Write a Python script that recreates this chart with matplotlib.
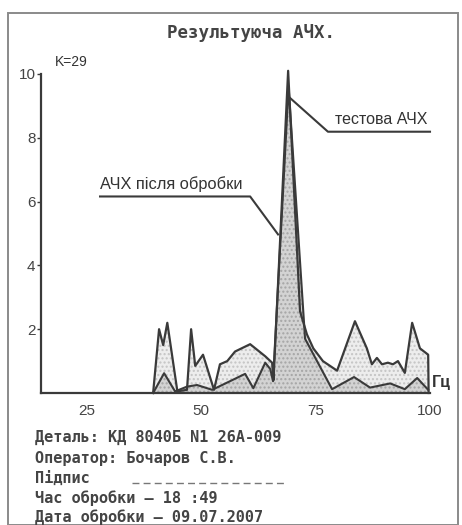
import matplotlib
matplotlib.use("Agg")
import matplotlib.pyplot as plt
from matplotlib.patches import Rectangle

# ---- data ----
freq_test = [39.5, 40.8, 41.7, 42.6, 44.8, 46.9, 47.8, 48.7, 50.4, 52.8, 54.1, 55.7,
             57.4, 60.7, 64.0, 65.5, 65.8, 69.0, 71.6, 73.1, 74.5, 76.6, 79.7, 83.6,
             86.2, 87.3, 88.4, 89.5, 90.8, 91.9, 93.0, 94.5, 96.1, 97.8, 99.6, 99.7]
amp_test = [0.0, 2.0, 1.5, 2.2, 0.05, 0.1, 2.0, 0.85, 1.2, 0.1, 0.9, 1.0,
            1.3, 1.53, 1.15, 0.95, 0.4, 10.1, 2.56, 1.84, 1.4, 1.0, 0.7, 2.25,
            1.4, 0.9, 1.1, 0.9, 0.95, 0.9, 1.0, 0.63, 2.2, 1.4, 1.2, 0.0]

freq_proc = [39.5, 41.9, 44.3, 46.9, 49.1, 52.4, 56.3, 59.6, 61.4, 64.0, 65.1, 65.7,
             69.1, 72.7, 78.6, 83.4, 86.9, 91.3, 94.5, 97.2, 99.6]
amp_proc = [0.0, 0.62, 0.05, 0.2, 0.25, 0.1, 0.37, 0.6, 0.15, 0.95, 0.75, 0.37,
            9.6, 1.7, 0.12, 0.5, 0.17, 0.3, 0.12, 0.47, 0.1]

x_ticks = [25, 50, 75, 100]
y_ticks = [2, 4, 6, 8, 10]

title = "Результуюча АЧХ."
coef_label = "K=29"
unit_label = "Гц"
label_test = "тестова АЧХ"
label_proc = "АЧХ після обробки"
info_lines = [
    "Деталь: КД 8040Б N1 26А-009",
    "Оператор: Бочаров С.В.",
    "Підпис",
    "Час обробки — 18 :49",
    "Дата обробки — 09.07.2007",
]

# ---- figure ----
W, H = 462, 525
fig = plt.figure(figsize=(W / 100, H / 100), dpi=100)
fig.patch.set_facecolor("white")

def fx(px):
    return px / W

def fy(py):
    return 1 - py / H

# outer frame
fig.add_artist(Rectangle((fx(8), fy(524.5)), fx(450), 511.5 / H, transform=fig.transFigure,
                         fill=False, edgecolor="#8a8a8a", linewidth=1.4))

ax = fig.add_axes([fx(41), fy(393), fx(389), (393 - 64.4) / H])
ax.set_xlim(15, 100)
ax.set_ylim(0, 10.3)

line_c = "#3a3a3a"
ax.fill_between(freq_test, amp_test, 0, facecolor="#ededed", edgecolor="#c4c4c4",
                hatch="....", linewidth=0)
ax.fill_between(freq_proc, amp_proc, 0, facecolor="#d3d3d3", edgecolor="#a5a5a5",
                hatch="....", linewidth=0)
ax.plot(freq_test, amp_test, color=line_c, lw=1.6, clip_on=False)
ax.plot(freq_proc, amp_proc, color=line_c, lw=1.5, clip_on=False)

for s in ["top", "right"]:
    ax.spines[s].set_visible(False)
ax.spines["left"].set_bounds(0, 10)
for s in ["left", "bottom"]:
    ax.spines[s].set_color(line_c)
    ax.spines[s].set_linewidth(1.6)

ax.set_xticks(x_ticks)
ax.set_yticks(y_ticks)
ax.tick_params(axis="x", length=0, pad=8, labelsize=11, labelcolor="#444444")
ax.tick_params(axis="y", length=3, width=1, direction="out", pad=1, labelsize=11,
               labelcolor="#444444", color=line_c)
for lab in ax.get_xticklabels() + ax.get_yticklabels():
    lab.set_fontfamily("Liberation Sans")

# leader lines / labels
ax.plot([69.4, 77.7, 100.0], [9.25, 8.19, 8.19], color=line_c, lw=1.5, clip_on=False)
ax.text(99.5, 8.33, label_test, ha="right", va="bottom", fontsize=11.5,
        family="Liberation Sans", color="#333333")
ax.plot([27.9, 60.7, 66.8], [6.16, 6.16, 4.97], color=line_c, lw=1.5, clip_on=False)
ax.text(28.0, 6.3, label_proc, ha="left", va="bottom", fontsize=11.8,
        family="Liberation Sans", color="#333333")

fig.text(fx(55), fy(62), coef_label, ha="left", va="center", fontsize=10,
         family="Liberation Sans", color="#333333")
fig.text(fx(432), fy(383), unit_label, ha="left", va="center", fontsize=11.5,
         family="Liberation Sans", weight="bold", color="#333333")

fig.text(fx(251), fy(33), title, ha="center", va="center", fontsize=12.5,
         family="DejaVu Sans Mono", weight="bold", color="#444444")

ys = [437, 458, 478, 498, 517]
for t, yv in zip(info_lines, ys):
    fig.text(fx(35), fy(yv), t, ha="left", va="center", fontsize=11,
             family="DejaVu Sans Mono", weight="bold", color="#444444")
# signature dashes
fig.add_artist(plt.Line2D([fx(132), fx(285)], [fy(483), fy(483)], transform=fig.transFigure,
                          color="#777777", lw=1, linestyle=(0, (5, 3))))

fig.savefig("out.png", dpi=100)
